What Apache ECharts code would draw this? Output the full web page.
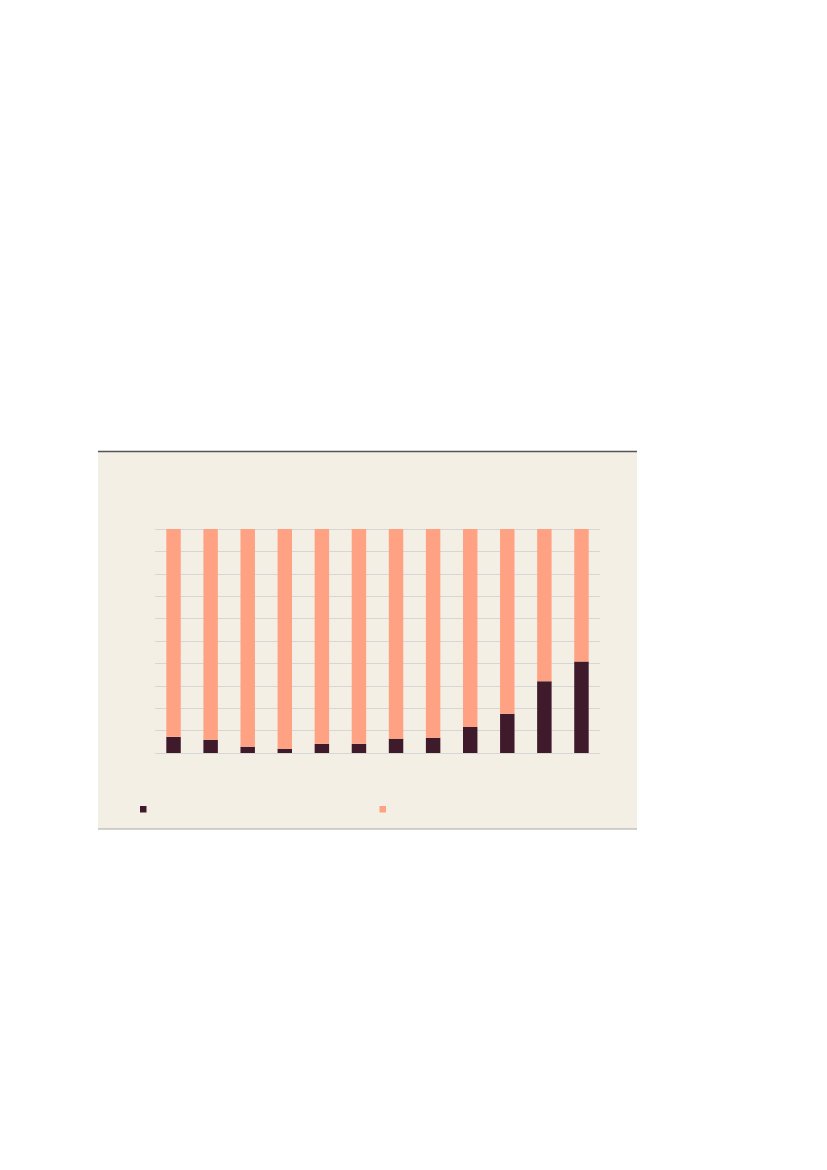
<!DOCTYPE html>
<html>
<head>
<meta charset="utf-8">
<script src="https://cdn.jsdelivr.net/npm/echarts@6/dist/echarts.min.js"></script>
<style>
html,body{margin:0;padding:0;background:#ffffff;}
#chart{width:827px;height:1170px;}
</style>
</head>
<body>
<div id="chart"></div>
<script>
var categories = ['1','2','3','4','5','6','7','8','9','10','11','12'];
var darkValues = [7.2, 5.9, 2.8, 1.9, 4.1, 4.1, 6.4, 6.8, 11.6, 17.5, 32.0, 40.8];
var lightValues = [92.8, 94.1, 97.2, 98.1, 95.9, 95.9, 93.6, 93.2, 88.4, 82.5, 68.0, 59.2];
var seriesNames = ['A', 'B'];
var yTicks = {min: 0, max: 100, interval: 10};

var chart = echarts.init(document.getElementById('chart'), null, {renderer: 'canvas'});
chart.setOption({
  backgroundColor: '#ffffff',
  animation: false,
  graphic: [
    {type: 'rect', shape: {x: 98, y: 451, width: 539, height: 378}, style: {fill: '#F4EFE4'}, z: -10},
    {type: 'line', shape: {x1: 98, y1: 451.5, x2: 637, y2: 451.5}, style: {stroke: '#555555', lineWidth: 1.5}, z: -5},
    {type: 'line', shape: {x1: 98, y1: 829, x2: 637, y2: 829}, style: {stroke: '#a8a8a8', lineWidth: 1.2}, z: -5}
  ],
  grid: {left: 155, right: 227, top: 529, bottom: 417, containLabel: false},
  legend: [
    {data: [seriesNames[0]], left: 140, top: 806, padding: 0, itemWidth: 6.5, itemHeight: 6.5, icon: 'rect', formatter: function(){return '';}, selectedMode: false},
    {data: [seriesNames[1]], left: 379.5, top: 806, padding: 0, itemWidth: 6.5, itemHeight: 6.5, icon: 'rect', formatter: function(){return '';}, selectedMode: false}
  ],
  xAxis: {
    type: 'category',
    data: categories,
    axisLine: {show: false},
    axisTick: {show: false},
    axisLabel: {show: false}
  },
  yAxis: {
    type: 'value',
    min: yTicks.min, max: yTicks.max, interval: yTicks.interval,
    axisLine: {show: false},
    axisTick: {show: false},
    axisLabel: {show: false},
    splitLine: {lineStyle: {color: '#D8D5D5', width: 1.2}}
  },
  series: [
    {name: seriesNames[0], type: 'bar', stack: 'total', data: darkValues, barWidth: '39%', itemStyle: {color: '#3F1A2B'}},
    {name: seriesNames[1], type: 'bar', stack: 'total', data: lightValues, barWidth: '39%', itemStyle: {color: '#FFA283'}}
  ]
});
</script>
</body>
</html>
